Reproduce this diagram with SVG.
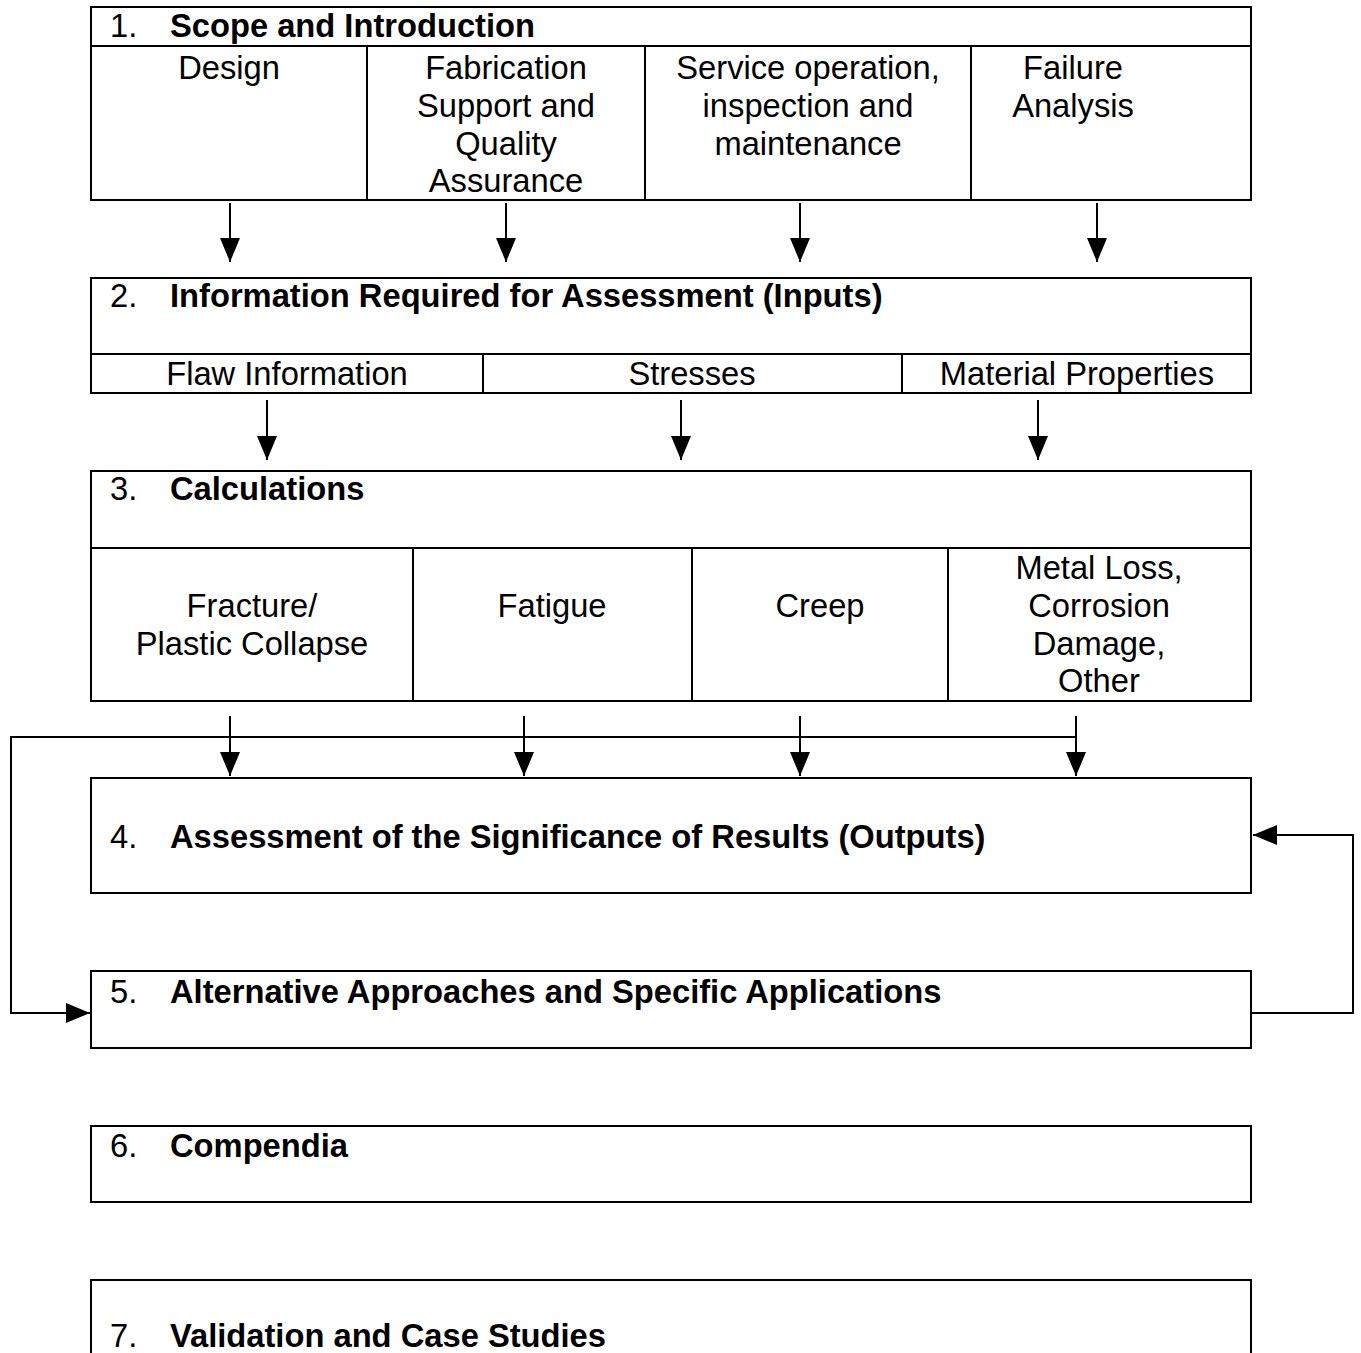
<svg xmlns="http://www.w3.org/2000/svg" width="1361" height="1353" viewBox="0 0 1361 1353">
<style>
.box{fill:none;stroke:#000;stroke-width:2}
.ln{stroke:#000;stroke-width:2;fill:none}
.t{font-family:"Liberation Sans",Arial,sans-serif;font-size:32.7px;fill:#000}
.b{font-weight:bold}
.c{text-anchor:middle}
</style>
<defs>
<marker id="ah" markerUnits="userSpaceOnUse" markerWidth="24" markerHeight="20" refX="24" refY="10" orient="auto">
<path d="M0,0 L24,10 L0,20 z" fill="#000"/>
</marker>
</defs>
<rect width="1361" height="1353" fill="#fff"/>
<g id="node1">
<rect class="box" x="91" y="7" width="1160" height="193"/>
<line class="ln" x1="91" y1="46" x2="1251" y2="46"/>
<line class="ln" x1="367" y1="46" x2="367" y2="200"/>
<line class="ln" x1="645" y1="46" x2="645" y2="200"/>
<line class="ln" x1="971" y1="46" x2="971" y2="200"/>
<text class="t" x="110" y="37">1.</text>
<text class="t b" x="170" y="37">Scope and Introduction</text>
<text class="t c" x="229" y="79">Design</text>
<text class="t c" x="506" y="79">Fabrication</text>
<text class="t c" x="506" y="117">Support and</text>
<text class="t c" x="506" y="155">Quality</text>
<text class="t c" x="506" y="192">Assurance</text>
<text class="t c" x="808" y="79">Service operation,</text>
<text class="t c" x="808" y="117">inspection and</text>
<text class="t c" x="808" y="155">maintenance</text>
<text class="t c" x="1073" y="79">Failure</text>
<text class="t c" x="1073" y="117">Analysis</text>
</g>
<g id="node2">
<rect class="box" x="91" y="278" width="1160" height="115"/>
<line class="ln" x1="91" y1="354" x2="1251" y2="354"/>
<line class="ln" x1="483" y1="354" x2="483" y2="393"/>
<line class="ln" x1="902" y1="354" x2="902" y2="393"/>
<text class="t" x="110" y="307">2.</text>
<text class="t b" x="170" y="307">Information Required for Assessment (Inputs)</text>
<text class="t c" x="287" y="385">Flaw Information</text>
<text class="t c" x="692" y="385">Stresses</text>
<text class="t c" x="1077" y="385">Material Properties</text>
</g>
<g id="node3">
<rect class="box" x="91" y="471" width="1160" height="230"/>
<line class="ln" x1="91" y1="548" x2="1251" y2="548"/>
<line class="ln" x1="413" y1="548" x2="413" y2="701"/>
<line class="ln" x1="692" y1="548" x2="692" y2="701"/>
<line class="ln" x1="948" y1="548" x2="948" y2="701"/>
<text class="t" x="110" y="500">3.</text>
<text class="t b" x="170" y="500">Calculations</text>
<text class="t c" x="252" y="617">Fracture/</text>
<text class="t c" x="252" y="655">Plastic Collapse</text>
<text class="t c" x="552" y="617">Fatigue</text>
<text class="t c" x="820" y="617">Creep</text>
<text class="t c" x="1099" y="579">Metal Loss,</text>
<text class="t c" x="1099" y="617">Corrosion</text>
<text class="t c" x="1099" y="655">Damage,</text>
<text class="t c" x="1099" y="692">Other</text>
</g>
<g id="node4">
<rect class="box" x="91" y="778" width="1160" height="115"/>
<text class="t" x="110" y="848">4.</text>
<text class="t b" x="170" y="848">Assessment of the Significance of Results (Outputs)</text>
</g>
<g id="node5">
<rect class="box" x="91" y="971" width="1160" height="77"/>
<text class="t" x="110" y="1003">5.</text>
<text class="t b" x="170" y="1003">Alternative Approaches and Specific Applications</text>
</g>
<g id="node6">
<rect class="box" x="91" y="1126" width="1160" height="76"/>
<text class="t" x="110" y="1157">6.</text>
<text class="t b" x="170" y="1157">Compendia</text>
</g>
<g id="node7">
<rect class="box" x="91" y="1280" width="1160" height="100"/>
<text class="t" x="110" y="1347">7.</text>
<text class="t b" x="170" y="1347">Validation and Case Studies</text>
</g>
<g id="connectors">
<line class="ln" x1="230" y1="203" x2="230" y2="262" marker-end="url(#ah)"/>
<line class="ln" x1="506" y1="203" x2="506" y2="262" marker-end="url(#ah)"/>
<line class="ln" x1="800" y1="203" x2="800" y2="262" marker-end="url(#ah)"/>
<line class="ln" x1="1097" y1="203" x2="1097" y2="262" marker-end="url(#ah)"/>
<line class="ln" x1="267" y1="400" x2="267" y2="460" marker-end="url(#ah)"/>
<line class="ln" x1="681" y1="400" x2="681" y2="460" marker-end="url(#ah)"/>
<line class="ln" x1="1038" y1="400" x2="1038" y2="460" marker-end="url(#ah)"/>
<line class="ln" x1="230" y1="716" x2="230" y2="776" marker-end="url(#ah)"/>
<line class="ln" x1="524" y1="716" x2="524" y2="776" marker-end="url(#ah)"/>
<line class="ln" x1="800" y1="716" x2="800" y2="776" marker-end="url(#ah)"/>
<line class="ln" x1="1076" y1="716" x2="1076" y2="776" marker-end="url(#ah)"/>
<path class="ln" d="M1076,737 H11 V1013 H90" marker-end="url(#ah)"/>
<path class="ln" d="M1252,1013 H1353 V835 H1253" marker-end="url(#ah)"/>
</g>
</svg>
